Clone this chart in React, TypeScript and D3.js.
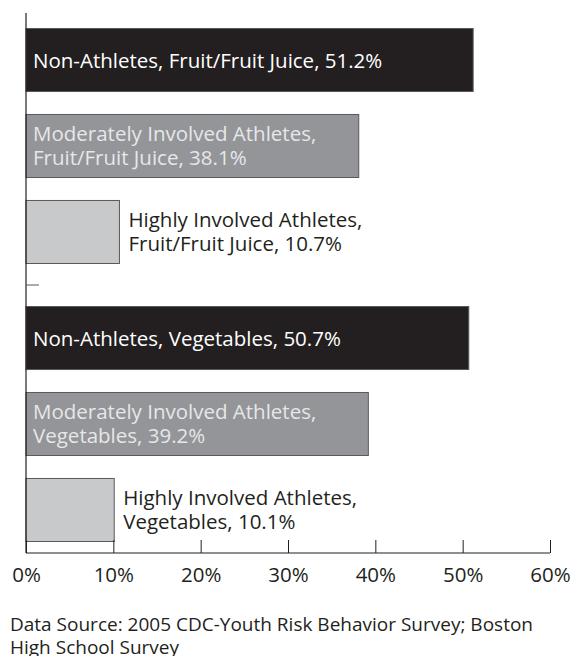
import React, { useEffect, useRef } from "react";
import * as d3 from "d3";

const groups = ["Fruit/Fruit Juice", "Vegetables"];
const series = [
  "Non-Athletes",
  "Moderately Involved Athletes",
  "Highly Involved Athletes",
];
const fruitValues = [51.2, 38.1, 10.7];
const vegValues = [50.7, 39.2, 10.1];
const xTicks = [0, 10, 20, 30, 40, 50, 60];
const sourceLines = [
  "Data Source: 2005 CDC-Youth Risk Behavior Survey; Boston",
  "High School Survey",
];

const fills = ["#231f20", "#939598", "#c8c9cb"];
const textColors = ["#ffffff", "#e6e7e8", "#231f20"];

const App = () => {
  const ref = useRef<SVGSVGElement | null>(null);

  const width = 573;
  const height = 656;
  const margin = { left: 26, right: 23, top: 13, bottom: 553 };

  useEffect(() => {
    const svg = d3.select(ref.current);
    svg.selectAll("*").remove();

    const rows = groups.flatMap((g, gi) =>
      series.map((s, si) => ({
        group: g,
        series: s,
        si,
        value: gi === 0 ? fruitValues[si] : vegValues[si],
      }))
    );

    const x = d3
      .scaleLinear()
      .domain([0, 60])
      .range([margin.left, width - margin.right]);

    const outer = d3.scaleBand().domain(groups).range([7, 563]);
    const inner = d3
      .scaleBand()
      .domain(series)
      .range([0, outer.bandwidth()])
      .paddingInner(0.267)
      .paddingOuter(0.25);

    const font = "'Open Sans', sans-serif";

    // bars
    svg
      .selectAll(".bar")
      .data(rows)
      .enter()
      .append("rect")
      .attr("class", "bar")
      .attr("x", x(0))
      .attr("y", (d) => outer(d.group)! + inner(d.series)!)
      .attr("width", (d) => x(d.value) - x(0))
      .attr("height", inner.bandwidth())
      .attr("fill", (d) => fills[d.si])
      .attr("stroke", "#58595b")
      .attr("stroke-width", 1);

    // labels
    const labels = svg
      .selectAll(".lbl")
      .data(rows)
      .enter()
      .append("text")
      .attr("class", "lbl")
      .style("font-family", font)
      .style("font-size", "20.5px")
      .attr("fill", (d) => textColors[d.si]);

    labels.each(function (d) {
      const t = d3.select(this);
      const y0 = outer(d.group)! + inner(d.series)!;
      const bh = inner.bandwidth();
      const lx = d.si === 2 ? x(d.value) + 9 : x(0) + 7;
      if (d.si === 0) {
        t.append("tspan")
          .attr("x", lx)
          .attr("y", y0 + bh / 2 + 8)
          .text(`${d.series}, ${d.group}, ${d.value}%`);
      } else {
        t.append("tspan")
          .attr("x", lx)
          .attr("y", y0 + bh / 2 - 5)
          .text(`${d.series},`);
        t.append("tspan")
          .attr("x", lx)
          .attr("y", y0 + bh / 2 + 19)
          .text(`${d.group}, ${d.value}%`);
      }
    });

    // y axis line with group separator tick
    svg
      .append("line")
      .attr("x1", x(0))
      .attr("x2", x(0))
      .attr("y1", margin.top)
      .attr("y2", margin.bottom)
      .attr("stroke", "#231f20")
      .attr("stroke-width", 1.2);

    svg
      .append("line")
      .attr("x1", x(0))
      .attr("x2", x(0) + 13)
      .attr("y1", outer(groups[1])!)
      .attr("y2", outer(groups[1])!)
      .attr("stroke", "#58595b")
      .attr("stroke-width", 1);

    // x axis
    const xAxis = svg
      .append("g")
      .attr("transform", "translate(0," + margin.bottom + ")")
      .call(
        d3
          .axisBottom(x)
          .tickValues(xTicks)
          .tickSize(-13)
          .tickPadding(14)
          .tickFormat((d) => d + "%")
      );
    xAxis
      .select(".domain")
      .attr("stroke", "#231f20")
      .attr("stroke-width", 1.2)
      .attr("d", `M${x(0)},0H${x(60)}`);
    xAxis.selectAll(".tick line").attr("stroke", "#231f20");
    xAxis
      .selectAll(".tick text")
      .style("font-family", font)
      .style("font-size", "20.5px")
      .attr("fill", "#231f20");

    // source note
    svg
      .selectAll(".src")
      .data(sourceLines)
      .enter()
      .append("text")
      .attr("class", "src")
      .attr("x", 10)
      .attr("y", (d, i) => 631 + i * 22.5)
      .style("font-family", font)
      .style("font-size", "19px")
      .attr("fill", "#231f20")
      .text((d) => d);
  }, []);

  return (
    <svg
      ref={ref}
      width={width}
      height={height}
      style={{ position: "absolute", left: 0, top: 0, background: "#fff" }}
    />
  );
};

export default App;
